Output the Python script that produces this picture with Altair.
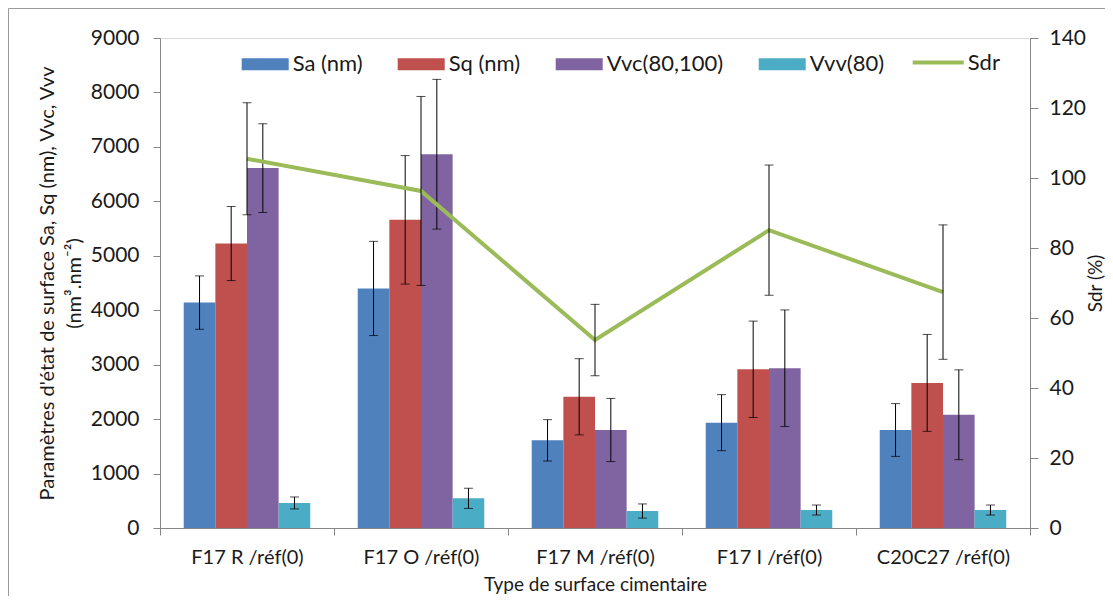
import altair as alt
import pandas as pd

categories = ["F17 R /réf(0)", "F17 O /réf(0)", "F17 M /réf(0)", "F17 I /réf(0)", "C20C27 /réf(0)"]
series_names = ["Sa (nm)", "Sq (nm)", "Vvc(80,100)", "Vvv(80)"]
sa = [4140, 4400, 1610, 1935, 1800]
sa_err = [490, 865, 380, 515, 485]
sq = [5225, 5660, 2410, 2915, 2665]
sq_err = [680, 1180, 700, 885, 890]
vvc = [6610, 6865, 1800, 2935, 2080]
vvc_err = [815, 1375, 580, 1070, 825]
vvv = [460, 545, 312, 330, 330]
vvv_err = [110, 185, 130, 92, 92]
sdr = [105.5, 96.3, 53.7, 85.1, 67.4]
sdr_err = [16.0, 27.0, 10.2, 18.6, 19.2]
left_ticks = [0, 1000, 2000, 3000, 4000, 5000, 6000, 7000, 8000, 9000]
right_ticks = [0, 20, 40, 60, 80, 100, 120, 140]

colors = ["#4F81BD", "#C0504D", "#8064A2", "#4BACC6"]
sdr_color = "#9BBB59"
axis_gray = "#868686"
text_col = "#1a1a1a"
FONT = "Lato"

rows = []
for name, vals, errs in zip(series_names, [sa, sq, vvc, vvv], [sa_err, sq_err, vvc_err, vvv_err]):
    for c, v, e in zip(categories, vals, errs):
        rows.append({"cat": c, "serie": name, "val": v, "lo": v - e, "hi": v + e})
bars_df = pd.DataFrame(rows)
sdr_df = pd.DataFrame({
    "cat": categories,
    "serie": ["Sdr"] * len(categories),
    "val": sdr,
    "lo": [v - e for v, e in zip(sdr, sdr_err)],
    "hi": [v + e for v, e in zip(sdr, sdr_err)],
})


def x_enc():
    return alt.X(
        "cat:N", sort=categories,
        scale=alt.Scale(domain=categories, paddingInner=0, paddingOuter=0),
        axis=alt.Axis(title="Type de surface cimentaire", labelAngle=0, tickBand="extent",
                      tickSize=7, tickColor=axis_gray, domainColor=axis_gray,
                      labelFont=FONT, labelFontSize=20, labelColor=text_col, labelPadding=12,
                      titleFont=FONT, titleFontSize=19, titleFontWeight="normal",
                      titleColor=text_col, titlePadding=8),
    )


def xoff_enc():
    return alt.XOffset("serie:N", sort=series_names,
                       scale=alt.Scale(domain=series_names, paddingInner=0, paddingOuter=0.75))


yl_scale = alt.Scale(domain=[0, 9000], nice=False, zero=True)
yl_axis = alt.Axis(orient="left", values=left_ticks, format="d", grid=False, tickSize=7,
                   tickColor=axis_gray, domainColor=axis_gray, labelFont=FONT, labelFontSize=21,
                   labelColor=text_col, labelPadding=14,
                   title=["Paramètres d'état de surface Sa, Sq (nm), Vvc, Vvv", "(nm³.nm⁻²)"],
                   titleFont=FONT, titleFontSize=20, titleFontWeight="normal", titleColor=text_col,
                   titleLineHeight=27, titlePadding=6)

yr_scale = alt.Scale(domain=[0, 140], nice=False, zero=True)
yr_axis = alt.Axis(orient="right", values=right_ticks, grid=False, tickSize=8, tickColor=axis_gray,
                   domainColor=axis_gray, labelFont=FONT, labelFontSize=21, labelColor=text_col,
                   labelPadding=11, title="Sdr (%)", titleAngle=270, titleBaseline="top",
                   titleFont=FONT, titleFontSize=19, titleFontWeight="normal", titleColor=text_col,
                   titlePadding=1)

frame = alt.Chart(pd.DataFrame({"a": [0]})).mark_rect(
    fillOpacity=0, stroke="#9a9a9a", strokeWidth=1
).encode(x=alt.value(-151.5), x2=alt.value(1500), y=alt.value(-29.5), y2=alt.value(1000))

base_b = alt.Chart(bars_df)
bars = base_b.mark_bar().encode(
    x=x_enc(), xOffset=xoff_enc(),
    y=alt.Y("val:Q", scale=yl_scale, axis=yl_axis),
    color=alt.Color("serie:N", sort=series_names,
                    scale=alt.Scale(domain=series_names, range=colors),
                    legend=alt.Legend(title=None, orient="none", direction="horizontal",
                                      legendX=81.7, legendY=2.5,
                                      symbolType="M-1,-0.255L1,-0.255L1,0.255L-1,0.255Z",
                                      symbolSize=2209, symbolStrokeWidth=0, symbolOpacity=1,
                                      labelFont=FONT, labelFontSize=22, labelColor=text_col,
                                      labelOffset=4, columnPadding=35, padding=0)),
)
err_rule = base_b.mark_rule(color="black", strokeWidth=1).encode(
    x=x_enc(), xOffset=xoff_enc(),
    y=alt.Y("lo:Q", scale=yl_scale, axis=yl_axis), y2="hi:Q",
)
cap_lo = base_b.mark_tick(color="black", thickness=1, size=9).encode(
    x=x_enc(), xOffset=xoff_enc(), y=alt.Y("lo:Q", scale=yl_scale, axis=yl_axis),
)
cap_hi = base_b.mark_tick(color="black", thickness=1, size=9).encode(
    x=x_enc(), xOffset=xoff_enc(), y=alt.Y("hi:Q", scale=yl_scale, axis=yl_axis),
)
left = alt.layer(frame, bars, err_rule, cap_lo, cap_hi)

base_s = alt.Chart(sdr_df)
line = base_s.mark_line(strokeWidth=4).encode(
    x=x_enc(),
    y=alt.Y("val:Q", scale=yr_scale, axis=yr_axis),
    stroke=alt.Stroke("serie:N", scale=alt.Scale(domain=["Sdr"], range=[sdr_color]),
                      legend=alt.Legend(title=None, orient="none", legendX=750.7, legendY=-3,
                                        symbolType="stroke", symbolSize=2601, symbolStrokeWidth=4,
                                        labelFont=FONT, labelFontSize=22, labelColor=text_col,
                                        labelOffset=2, padding=0)),
)
s_rule = base_s.mark_rule(color="black", strokeWidth=1).encode(
    x=x_enc(), y=alt.Y("lo:Q", scale=yr_scale, axis=yr_axis), y2="hi:Q",
)
s_cap_lo = base_s.mark_tick(color="black", thickness=1, size=9).encode(
    x=x_enc(), y=alt.Y("lo:Q", scale=yr_scale, axis=yr_axis),
)
s_cap_hi = base_s.mark_tick(color="black", thickness=1, size=9).encode(
    x=x_enc(), y=alt.Y("hi:Q", scale=yr_scale, axis=yr_axis),
)
right = alt.layer(line, s_rule, s_cap_lo, s_cap_hi)

chart = alt.layer(left, right).resolve_scale(y="independent").properties(
    width=870, height=490,
    autosize=alt.AutoSizeParams(type="none"),
    padding={"left": 152, "top": 30, "right": 75, "bottom": 68},
    background="white",
).configure_view(strokeWidth=0).configure(font=FONT)

chart.save("out.html", embed_options={"renderer": "svg", "actions": False})
